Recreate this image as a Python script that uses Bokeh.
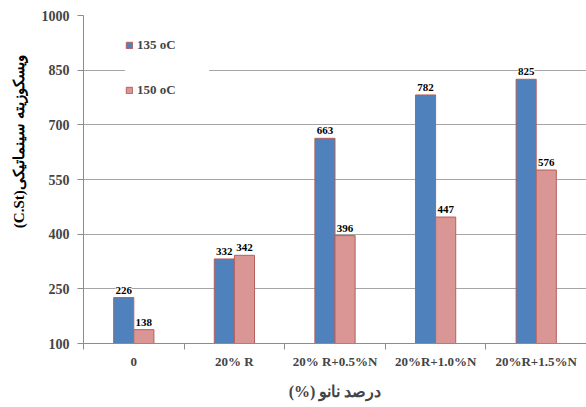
from bokeh.plotting import figure
from bokeh.models import (ColumnDataSource, Range1d, LinearAxis, FixedTicker, LabelSet,
                          Legend, LegendItem, Title)
from bokeh.transform import dodge
from bokeh.embed import file_html
from bokeh.resources import INLINE

categories = ["0", "20% R", "20% R+0.5%N", "20%R+1.0%N", "20%R+1.5%N"]
series_135 = [226, 332, 663, 782, 825]
series_150 = [138, 342, 396, 447, 576]
y_ticks = [100, 250, 400, 550, 700, 850, 1000]
series_names = ["135 oC", "150 oC"]
y_title = "(C.St)ویسکوزیته سینماتیکی"
x_title = "(%) درصد نانو"

FONT = "Liberation Serif"
GRID = "#A6A6A6"
AXIS = "#8C8C8C"
BLUE = "#4F81BD"
PINK = "#D99694"
EDGE = "#B5605C"

n = len(categories)
centers = [i + 0.5 for i in range(n)]
src = ColumnDataSource(dict(x=centers, a=series_135, b=series_150,
                            la=[str(v) for v in series_135], lb=[str(v) for v in series_150]))

p = figure(width=586, height=407, x_range=Range1d(0, n), y_range=Range1d(100, 1000),
           x_axis_location=None, output_backend="svg", toolbar_location=None,
           min_border_left=82, min_border_right=0, min_border_top=15, min_border_bottom=64)
p.outline_line_color = None
p.background_fill_color = "white"

r1 = p.vbar(x=dodge("x", -0.1), top="a", bottom=100, width=0.2, source=src,
            fill_color=BLUE, line_color=EDGE, line_width=1)
r2 = p.vbar(x=dodge("x", 0.1), top="b", bottom=100, width=0.2, source=src,
            fill_color=PINK, line_color=EDGE, line_width=1)

for col, lab, off in (("a", "la", -0.1), ("b", "lb", 0.1)):
    ls = LabelSet(x=dodge("x", off), y=col, text=lab, source=src,
                  y_offset=4, text_align="center", text_baseline="bottom",
                  text_font=FONT, text_font_style="bold", text_font_size="11px",
                  text_color="black", background_fill_color="white")
    p.add_layout(ls)

# y axis
p.yaxis.ticker = FixedTicker(ticks=y_ticks)
p.yaxis.major_tick_in = 0
p.yaxis.major_tick_out = 6
p.yaxis.minor_tick_line_color = None
p.yaxis.axis_line_color = AXIS
p.yaxis.major_tick_line_color = AXIS
p.yaxis.major_label_text_font = FONT
p.yaxis.major_label_text_font_style = "bold"
p.yaxis.major_label_text_font_size = "14px"
p.yaxis.major_label_standoff = 8
p.ygrid.ticker = FixedTicker(ticks=y_ticks)
p.ygrid.grid_line_color = GRID
p.xgrid.visible = False

# y axis title (placed off-centre, as in the original)
p.add_layout(Title(text=y_title, align="right", offset=40, vertical_align="top",
                   standoff=20, text_font=FONT, text_font_style="bold",
                   text_font_size="15px", text_color="black"), "left")

# x axis: tick marks between categories, labels at category centers
tick_axis = LinearAxis(ticker=FixedTicker(ticks=list(range(n + 1))),
                       major_tick_in=0, major_tick_out=6, minor_tick_line_color=None,
                       axis_line_color=AXIS, major_tick_line_color=AXIS,
                       major_label_text_font_size="1px", major_label_standoff=0,
                       major_label_text_alpha=0)
p.add_layout(tick_axis, "below")
cat_axis = LinearAxis(ticker=FixedTicker(ticks=centers),
                      major_label_overrides={c: cat for c, cat in zip(centers, categories)},
                      axis_line_color=None, major_tick_line_color=None,
                      minor_tick_line_color=None, major_label_standoff=-2,
                      major_label_text_font=FONT, major_label_text_font_style="bold",
                      major_label_text_font_size="13px",
                      axis_label=x_title, axis_label_text_font=FONT,
                      axis_label_text_font_style="bold", axis_label_text_font_size="16px",
                      axis_label_standoff=11)
p.add_layout(cat_axis, "below")

legend = Legend(items=[LegendItem(label=series_names[0], renderers=[r1]),
                       LegendItem(label=series_names[1], renderers=[r2])],
                location=(42, 245), padding=15, spacing=29,
                glyph_width=8, glyph_height=8, label_height=16, label_standoff=4,
                label_width=72,
                label_text_font=FONT, label_text_font_style="bold", label_text_font_size="13px",
                background_fill_color="white", background_fill_alpha=1, border_line_color=None)
p.add_layout(legend)

open("out.html", "w").write(file_html(p, INLINE))
